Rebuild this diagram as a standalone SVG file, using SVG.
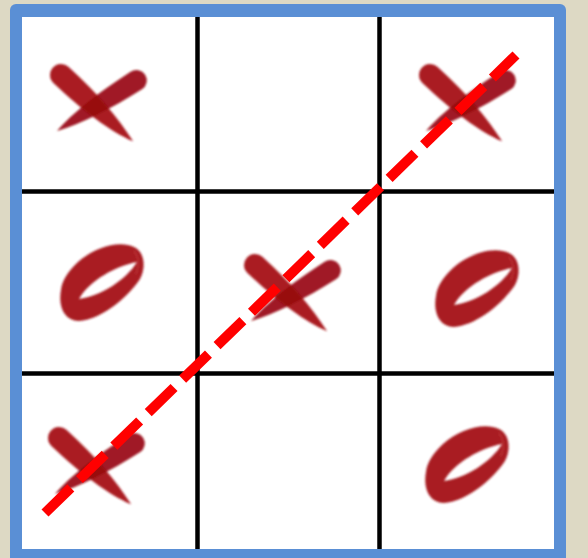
<svg xmlns="http://www.w3.org/2000/svg" xmlns:xlink="http://www.w3.org/1999/xlink" width="588" height="558" viewBox="0 0 588 558">
  <style>
    .grid { stroke: #000; stroke-width: 4.5; fill: none; }
    .win { stroke: #ff0000; stroke-width: 10; stroke-dasharray: 36 12; stroke-linecap: butt; fill: none; }
    .a { fill: #aa1e24; }
    .b { fill: #96050c; fill-opacity: 0.9; }
    .o { fill: #a91c22; fill-rule: evenodd; }
    .seam { fill: none; stroke: #c84046; stroke-width: 1.2; stroke-opacity: 0.7; }
  </style>
  <defs>
    <filter id="soft" x="-10%" y="-10%" width="120%" height="120%">
      <feGaussianBlur stdDeviation="0.8"/>
    </filter>
    <g id="xmark" filter="url(#soft)">
      <path class="a" transform="translate(61,75) rotate(42)" d="M0,-11 C40,-11 72,-6 98,1 C74,9 40,12 0,11 A11,11 0 0 1 0,-11 Z"/>
      <path class="b" transform="translate(57,131) rotate(-32.5)" d="M0,0 C22,-7 58,-10.5 94,-10.5 A10.5,10.5 0 0 1 94,10.5 C58,10.5 24,7 0,0 Z"/>
    </g>
    <g id="omark" filter="url(#soft)">
      <path class="o" d="M61,290 C58,306 64,321 79,321 C99,320 126,300 140,279 C146,268 145,252 134,247 C119,240 95,247 78,262 C68,271 62,281 61,290 Z M79,299 C90,280 116,266 137,262 C126,280 101,296 79,299 Z"/>
      <path class="seam" d="M134,251 C139,257 139,266 136,274"/>
    </g>
  </defs>

  <rect x="0" y="0" width="588" height="558" fill="#ddd9c4"/>
  <g id="frame">
    <rect x="10" y="4" width="556" height="570" rx="6" fill="#5a8fd5"/>
    <rect x="22" y="17" width="532" height="532" fill="#ffffff"/>
  </g>

  <g id="cell-0-0"><use xlink:href="#xmark" href="#xmark"/></g>
  <g id="cell-2-0"><use xlink:href="#xmark" href="#xmark" transform="translate(369,0)"/></g>
  <g id="cell-0-1"><use xlink:href="#omark" href="#omark"/></g>
  <g id="cell-1-1"><use xlink:href="#xmark" href="#xmark" transform="translate(194,190)"/></g>
  <g id="cell-2-1"><use xlink:href="#omark" href="#omark" transform="translate(375,6)"/></g>
  <g id="cell-0-2"><use xlink:href="#xmark" href="#xmark" transform="translate(-2,363)"/></g>
  <g id="cell-2-2"><use xlink:href="#omark" href="#omark" transform="translate(365,182)"/></g>

  <g id="grid">
    <line class="grid" x1="197.5" y1="17" x2="197.5" y2="549"/>
    <line class="grid" x1="379.5" y1="17" x2="379.5" y2="549"/>
    <line class="grid" x1="22" y1="191.5" x2="554" y2="191.5"/>
    <line class="grid" x1="22" y1="373.5" x2="554" y2="373.5"/>
  </g>

  <g id="connectors">
    <line class="win" x1="45" y1="513" x2="516" y2="55"/>
  </g>
</svg>
